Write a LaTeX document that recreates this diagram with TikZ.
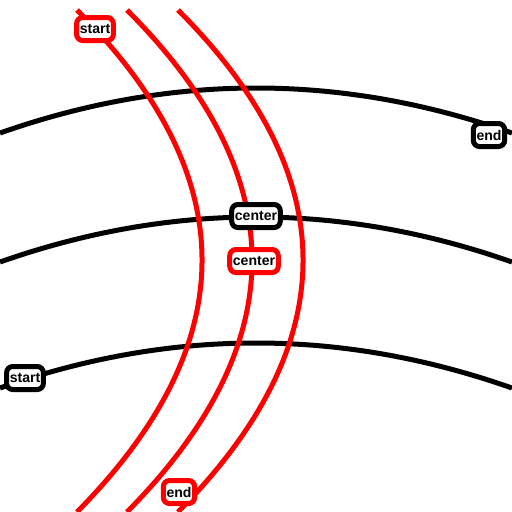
\documentclass[tikz,border=0pt]{standalone}
\usepackage{fontspec}
\setsansfont{Liberation Sans}
\usetikzlibrary{positioning}

\begin{document}
\begin{tikzpicture}[
  x=0.02cm, y=-0.02cm,
  font=\sffamily\bfseries\fontsize{8}{9}\selectfont,
  hcurve/.style={draw=black, line width=0.1cm},
  vcurve/.style={draw=red, line width=0.1cm},
  tag/.style={draw, fill=white, line width=0.1cm, rounded corners=3.5pt, inner xsep=1.8pt, inner ysep=0pt, minimum height=0.46cm}
]
\useasboundingbox (0,0) rectangle (512,512);
% black curves
\draw[hcurve] (0,133) .. controls (170.7,73) and (341.3,73) .. (512,133);
\draw[hcurve] (0,262) .. controls (170.7,202) and (341.3,202) .. (512,262);
\draw[hcurve] (0,388) .. controls (170.7,328) and (341.3,328) .. (512,388);
% red curves
\draw[vcurve] (77,10) .. controls (243.7,176.7) and (243.7,343.3) .. (77,512);
\draw[vcurve] (127,10) .. controls (293.7,176.7) and (293.7,343.3) .. (127,512);
\draw[vcurve] (178,10) .. controls (344.7,176.7) and (344.7,343.3) .. (178,512);
% labels
\node[tag, draw=black] (bstart) at (25,378) {start};
\node[tag, draw=black] (bcenter) at (256,216) {center};
\node[tag, draw=black] (bend) at (489,135) {end};
\node[tag, draw=red] (rstart) at (95,29) {start};
\node[tag, draw=red] (rcenter) at (254,261) {center};
\node[tag, draw=red] (rend) at (179,492) {end};
\end{tikzpicture}
\end{document}
